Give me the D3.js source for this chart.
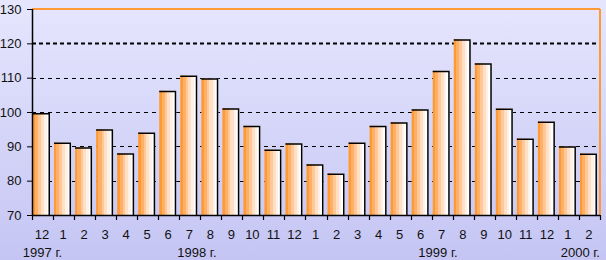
<!DOCTYPE html>
<html><head><meta charset="utf-8">
<script src="https://cdn.jsdelivr.net/npm/d3@7"></script>
<style>
html,body{margin:0;padding:0;}
body{width:606px;height:260px;overflow:hidden;}
svg{display:block;}
text{font-family:"Liberation Sans",Arial,sans-serif;font-size:13px;fill:#111;}
</style></head>
<body>
<svg id="c" width="606" height="260"></svg>
<script>
const months = ["12","1","2","3","4","5","6","7","8","9","10","11","12","1","2","3","4","5","6","7","8","9","10","11","12","1","2"];
const values = [99.7,91.1,89.7,95.0,88.0,94.0,106.2,110.6,109.8,101.1,96.0,89.1,90.9,84.8,82.1,91.1,96.0,97.0,100.8,112.0,121.2,114.2,101.0,92.3,97.2,90.0,87.9];
const yearLabels = ["1997 г.","1998 г.","1999 г.","2000 г."];
const yearPos = [0.5,7.84,19.3,27];
const yTicks = [70,80,90,100,110,120,130];

const svg = d3.select("#c");
const W=606,H=260;
const L=32,R=600,T=9,B=215;

const defs = svg.append("defs");
const bg = defs.append("linearGradient").attr("id","bg").attr("x1",0).attr("y1",0).attr("x2",0).attr("y2",1);
bg.append("stop").attr("offset","0%").attr("stop-color","#E6E6FE");
bg.append("stop").attr("offset","100%").attr("stop-color","#C5C5F4");
const bar = defs.append("linearGradient").attr("id","bar").attr("x1",0).attr("y1",0).attr("x2",1).attr("y2",0);
[["0%","#FF9A33"],["14%","#FF9A33"],["14%","#FFB066"],["32%","#FFB066"],["32%","#FFC899"],["48%","#FFC899"],["48%","#FFE0C6"],["66%","#FFE0C6"],["66%","#FFF1E6"],["80%","#FFF1E6"],["80%","#FFFFFF"],["100%","#FFFFFF"]]
 .forEach(s=>bar.append("stop").attr("offset",s[0]).attr("stop-color",s[1]));

svg.append("rect").attr("width",W).attr("height",H).attr("fill","url(#bg)");

const x = d3.scaleBand().domain(d3.range(months.length)).range([L,R]).padding(0);
const y = d3.scaleLinear().domain([70,130]).range([B,T]);
const bw = x.bandwidth();

// gridlines
svg.append("g").selectAll("line").data(yTicks.filter(v=>v>70&&v<130)).join("line")
  .attr("x1",L).attr("x2",R).attr("y1",d=>Math.round(y(d))+0.5).attr("y2",d=>Math.round(y(d))+0.5)
  .attr("stroke","#000")
  .attr("stroke-width",d=>d===120?2:1)
  .attr("stroke-dasharray",d=>d===120?"4,3":"4,4");

// orange top & right frame
svg.append("line").attr("x1",L).attr("x2",R).attr("y1",T).attr("y2",T).attr("stroke","#FF9933").attr("stroke-width",2);
svg.append("line").attr("x1",R).attr("x2",R).attr("y1",T).attr("y2",B).attr("stroke","#FF9933").attr("stroke-width",2);

// bars
const g = svg.append("g");
const bx = i=>x(i)+1, bwid = 17;
g.selectAll("rect").data(values).join("rect")
  .attr("x",(d,i)=>bx(i)).attr("y",d=>y(d)).attr("width",bwid).attr("height",d=>B-y(d))
  .attr("fill","url(#bar)");
g.selectAll("path").data(values).join("path")
  .attr("d",(d,i)=>`M${bx(i)},${y(d)+0.75}H${bx(i)+bwid-0.75}V${B}`)
  .attr("fill","none").attr("stroke","#000").attr("stroke-width",1.5);

// axes
const ya = d3.axisLeft(y).tickValues(yTicks).tickSize(5).tickPadding(5.5);
const yg = svg.append("g").attr("transform",`translate(${L},0)`).call(ya);
yg.select(".domain").remove();
yg.selectAll("line").attr("stroke","#000");
yg.selectAll("text").style("font-size","13px").attr("fill","#111");
svg.append("line").attr("x1",L+0.5).attr("x2",L+0.5).attr("y1",T).attr("y2",B).attr("stroke","#000").attr("stroke-width",1.5);

// bottom axis
svg.append("line").attr("x1",L).attr("x2",R).attr("y1",B+0.5).attr("y2",B+0.5).attr("stroke","#000").attr("stroke-width",1.5);
svg.append("g").selectAll("line").data(d3.range(months.length+1)).join("line")
  .attr("x1",i=>Math.round(L+i*bw)+0.5).attr("x2",i=>Math.round(L+i*bw)+0.5).attr("y1",B).attr("y2",B+5)
  .attr("stroke","#000").attr("stroke-width",1.2);
svg.append("g").selectAll("text").data(months).join("text")
  .attr("x",(d,i)=>x(i)+bw/2-0.5).attr("y",239).attr("text-anchor","middle").text(d=>d);
svg.append("g").selectAll("text").data(yearLabels).join("text")
  .attr("x",(d,i)=>L+yearPos[i]*bw).attr("y",257)
  .attr("text-anchor",(d,i)=>i===yearLabels.length-1?"end":"middle").text(d=>d);
</script>
</body></html>
